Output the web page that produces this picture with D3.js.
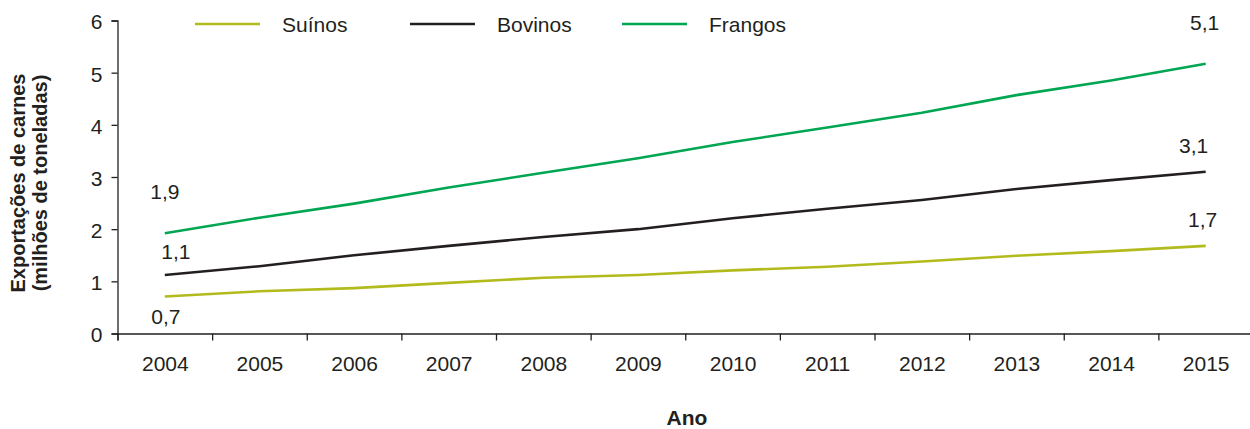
<!DOCTYPE html>
<html>
<head>
<meta charset="utf-8">
<script src="https://cdn.jsdelivr.net/npm/d3@7"></script>
<style>
body { margin: 0; background: #fff; }
text { font-family: "Liberation Sans", Arial, sans-serif; fill: #231f20; }
</style>
</head>
<body>
<div id="chart"></div>
<script>
var anos = [2004, 2005, 2006, 2007, 2008, 2009, 2010, 2011, 2012, 2013, 2014, 2015];
var suinos  = [0.71, 0.81, 0.87, 0.97, 1.07, 1.12, 1.21, 1.28, 1.38, 1.49, 1.58, 1.68];
var bovinos = [1.12, 1.29, 1.50, 1.68, 1.85, 2.00, 2.21, 2.39, 2.56, 2.77, 2.94, 3.10];
var frangos = [1.92, 2.22, 2.49, 2.80, 3.08, 3.36, 3.67, 3.95, 4.23, 4.57, 4.85, 5.17];
var series_names = ["Suínos", "Bovinos", "Frangos"];
var y_ticks = [0, 1, 2, 3, 4, 5, 6];
var end_labels = [
    {serie: 0, ano: 2004, text: "0,7"}, {serie: 1, ano: 2004, text: "1,1"}, {serie: 2, ano: 2004, text: "1,9"},
    {serie: 0, ano: 2015, text: "1,7"}, {serie: 1, ano: 2015, text: "3,1"}, {serie: 2, ano: 2015, text: "5,1"}
];

var colors = ["#b3bb1c", "#231f20", "#00a651"];
// label offsets from the point, per label (same order as end_labels)
var label_off = [[1, 28], [11, -16], [0, -34], [-3, -19], [-12, -19], [-1, -34]];

var W = 1250, H = 429;
var svg = d3.select("#chart").append("svg").attr("width", W).attr("height", H);

var x = d3.scaleLinear().domain([2003.5, 2015.5]).range([117.5, 1253]);
var y = d3.scaleLinear().domain([0, 6]).range([333.5, 20.5]);

var values = [suinos, bovinos, frangos];

// y axis
var ya = svg.append("g").attr("transform", "translate(117.5,0)")
    .call(d3.axisLeft(y).tickValues(y_ticks).tickSize(6).tickPadding(9).tickFormat(d3.format("d")));
ya.selectAll("text").style("font-size", "21px").attr("dy", "0.4em");

// x axis: ticks on the boundaries between years
var boundaries = d3.range(anos.length + 1).map(function(i) { return anos[0] - 0.5 + i; });
var xa = svg.append("g").attr("transform", "translate(0,333.5)")
    .call(d3.axisBottom(x).tickValues(boundaries).tickSize(7).tickFormat(""));
var xl = svg.append("g").attr("transform", "translate(0,333.5)")
    .call(d3.axisBottom(x).tickValues(anos).tickSize(0).tickPadding(23).tickFormat(d3.format("d")));
xl.select(".domain").remove();
xl.selectAll("text").style("font-size", "21px");

svg.selectAll(".domain, .tick line").attr("stroke", "#231f20").attr("stroke-width", 1.3);
svg.selectAll(".tick text").attr("fill", "#231f20").style("font-family", "Liberation Sans, Arial, sans-serif");

// lines
var line = d3.line().x(function(d, i) { return x(anos[i]); }).y(function(d) { return y(d); });
values.forEach(function(v, k) {
    svg.append("path").datum(v).attr("d", line)
        .attr("fill", "none").attr("stroke", colors[k]).attr("stroke-width", 2.6);
});

// value labels
end_labels.forEach(function(l, i) {
    var v = values[l.serie][anos.indexOf(l.ano)];
    svg.append("text").attr("x", x(l.ano) + label_off[i][0]).attr("y", y(v) + label_off[i][1])
        .attr("text-anchor", "middle").style("font-size", "21px").text(l.text);
});

// legend
var leg_x = [195, 410, 622];
series_names.forEach(function(n, k) {
    svg.append("line").attr("x1", leg_x[k]).attr("x2", leg_x[k] + 65).attr("y1", 24).attr("y2", 24)
        .attr("stroke", colors[k]).attr("stroke-width", 2.6);
    svg.append("text").attr("x", leg_x[k] + 87).attr("y", 31.5).style("font-size", "21px").text(n);
});

// axis titles
svg.append("text").attr("x", 687).attr("y", 425).attr("text-anchor", "middle")
    .style("font-size", "21px").style("font-weight", "bold").text("Ano");
var yt = svg.append("text").attr("transform", "translate(25,183) rotate(-90)")
    .attr("text-anchor", "middle").style("font-size", "20px").style("font-weight", "bold");
yt.append("tspan").attr("x", 0).attr("dy", 0).text("Exportações de carnes");
yt.append("tspan").attr("x", 0).attr("dy", 22).text("(milhões de toneladas)");
</script>
</body>
</html>
